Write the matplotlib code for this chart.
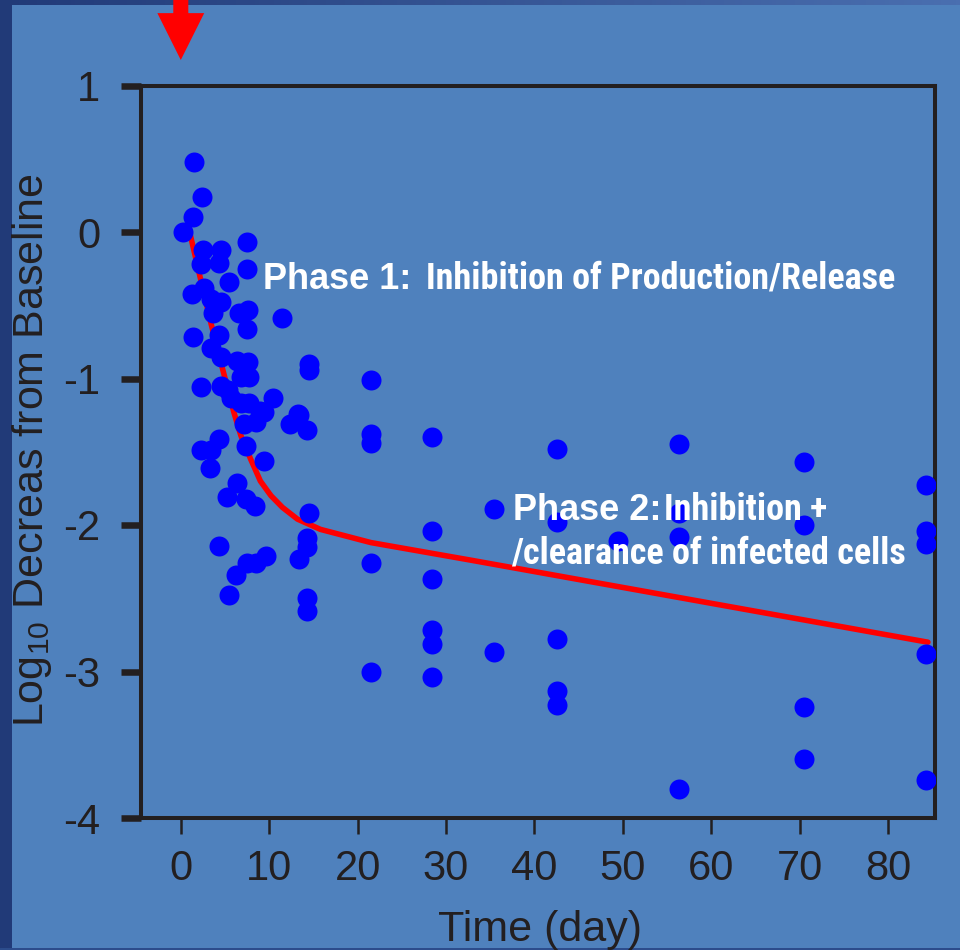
import numpy as np
import matplotlib
matplotlib.use("Agg")
import matplotlib.pyplot as plt
from matplotlib import font_manager
from matplotlib.patches import FancyArrow

# patient data: day, log10 decrease from baseline
days = [0.3, 1.5, 2.4, 1.4, 7.5, 7.5, 2.5, 4.5, 2.3, 4.3,
        5.4, 1.3, 2.6, 3.4, 4.5, 3.6, 6.6, 7.6, 7.5, 11.4,
        1.4, 4.3, 3.4, 4.5, 6.4, 7.6, 14.5, 14.5, 2.3, 4.5,
        6.8, 7.7, 5.7, 6.8, 7.7, 9.0, 10.4, 13.2, 5.3, 9.4,
        7.1, 8.5, 13.4, 14.3, 12.4, 4.3, 2.3, 3.4, 7.4, 9.4,
        3.3, 6.4, 5.2, 7.4, 8.4, 14.5, 4.3, 14.3, 14.3, 13.4,
        7.5, 8.5, 9.6, 6.3, 5.4, 14.3, 14.3,
        21.5, 21.5, 21.5, 21.5, 21.5,
        28.4, 28.4, 28.4, 28.4, 28.4, 28.4,
        35.4, 35.4,
        42.5, 42.5, 42.5, 42.5, 42.5,
        49.5,
        56.3, 56.3, 56.3, 56.3,
        70.5, 70.5, 70.5, 70.5,
        84.3, 84.3, 84.3, 84.3, 84.3]
decrease = [0.00, 0.48, 0.24, 0.10, -0.07, -0.25, -0.12, -0.12, -0.22, -0.21,
            -0.34, -0.42, -0.38, -0.46, -0.48, -0.55, -0.55, -0.53, -0.66, -0.59,
            -0.72, -0.70, -0.79, -0.85, -0.88, -0.89, -0.90, -0.94, -1.06, -1.05,
            -0.99, -0.99, -1.13, -1.17, -1.17, -1.22, -1.13, -1.24, -1.08, -1.23,
            -1.31, -1.30, -1.25, -1.35, -1.31, -1.41, -1.49, -1.49, -1.46, -1.56,
            -1.61, -1.71, -1.81, -1.82, -1.87, -1.92, -2.14, -2.09, -2.15, -2.23,
            -2.26, -2.26, -2.21, -2.34, -2.48, -2.50, -2.59,
            -1.01, -1.38, -1.44, -2.26, -3.00,
            -1.40, -2.04, -2.37, -2.72, -2.81, -3.04,
            -1.89, -2.87,
            -1.48, -1.98, -2.78, -3.13, -3.23,
            -2.11,
            -1.45, -1.92, -2.08, -3.80,
            -1.57, -2.00, -3.24, -3.60,
            -1.73, -2.04, -2.13, -2.88, -3.74]

# biphasic model curve
fit_days = [1.0, 2.0, 3.4, 4.75, 6.0, 6.8, 7.9, 9.0, 10.2, 11.5,
            13.2, 15.8, 21.5, 32.8, 84.5]
fit_decrease = [0.0, -0.26, -0.62, -0.94, -1.23, -1.39, -1.55, -1.70, -1.80, -1.88,
                -1.96, -2.03, -2.12, -2.24, -2.80]

x_ticks = [0, 10, 20, 30, 40, 50, 60, 70, 80]
y_ticks = [1, 0, -1, -2, -3, -4]

BG = '#4f81bd'
INK = '#231f20'

# condensed face for the annotation text, if one is installed
names = {f.name for f in font_manager.fontManager.ttflist}
NARROW, NARROW_SIZE = 'Liberation Sans', 22
for cand in ['Liberation Sans Narrow', 'Arial Narrow', 'Roboto Condensed']:
    if cand in names:
        NARROW, NARROW_SIZE = cand, 26
        break

plt.rcParams['font.family'] = ['Liberation Sans', 'DejaVu Sans']
plt.rcParams['mathtext.default'] = 'regular'
plt.rcParams['axes.unicode_minus'] = False

fig = plt.figure(figsize=(9.6, 9.5), dpi=100, facecolor=BG)

# dark slide border
left = fig.add_axes([0, 0, 12 / 960, 1])
left.set_facecolor('#213a78')
left.set_xticks([]); left.set_yticks([])
for s in left.spines.values():
    s.set_visible(False)
top = fig.add_axes([0, 1 - 5 / 950, 1, 5 / 950])
grad = np.linspace(0, 1, 256).reshape(1, -1)
top.imshow(grad, aspect='auto', cmap=matplotlib.colors.LinearSegmentedColormap.from_list(
    'band', ['#213a78', '#4a6fb0']))
top.axis('off')
bot = fig.add_axes([0, 0, 1, 2 / 950])
bot.axis('off')
bot.add_patch(plt.Rectangle((0, 0), 1, 1, color='#2c4c8c', transform=bot.transAxes))

ax = fig.add_axes([141 / 960, 132 / 950, 794 / 960, 732.5 / 950])
ax.set_facecolor(BG)

ax.plot(fit_days, fit_decrease, color='#ff0000', lw=4, zorder=2,
        solid_joinstyle='round', solid_capstyle='round')
ax.scatter(days, decrease, s=207, color='#0000ff', linewidths=0, zorder=3)

ax.set_xlim(-4.5, 85.3)
ax.set_ylim(-4, 1)
ax.set_xticks(x_ticks)
ax.set_yticks(y_ticks)

for s in ax.spines.values():
    s.set_color(INK)
    s.set_linewidth(2.9)

ax.tick_params(axis='y', length=14.4, width=4.7, color=INK, pad=15,
               labelsize=30, labelcolor=INK)
ax.tick_params(axis='x', length=11.5, width=1.8, color=INK, pad=11,
               labelsize=30, labelcolor=INK)

ax.set_xlabel('Time (day)', fontsize=31, color=INK)
ax.set_ylabel('Log$_{10}$ Decreas from Baseline', fontsize=31, color=INK)
ax.xaxis.set_label_coords(0.5025, -0.125)
ax.yaxis.set_label_coords(-0.11, 0.502)

# annotations
narrow = [NARROW, 'DejaVu Sans']
ax.text(9.33, -0.389, 'Phase 1:', color='white', fontsize=26,
        fontweight='bold', zorder=4)
ax.text(27.7, -0.389, 'Inhibition of Production/Release', color='white',
        fontsize=NARROW_SIZE, fontweight='bold', family=narrow, zorder=4)
ax.text(37.6, -1.966, 'Phase 2:', color='white', fontsize=26,
        fontweight='bold', zorder=4)
ax.text(54.6, -1.966, 'Inhibition +', color='white', fontsize=NARROW_SIZE,
        fontweight='bold', family=narrow, zorder=4)
ax.text(37.3, -2.266, '/clearance of infected cells', color='white',
        fontsize=NARROW_SIZE, fontweight='bold', family=narrow, zorder=4)

# treatment start arrow
arrow = FancyArrow(0, 1.62, 0, -0.446, width=1.7, head_width=5.3,
                   head_length=0.32, length_includes_head=True,
                   color='#ff0000', lw=0, clip_on=False, zorder=5)
ax.add_patch(arrow)

fig.savefig('out.png', dpi=100, facecolor=BG)
plt.close(fig)
